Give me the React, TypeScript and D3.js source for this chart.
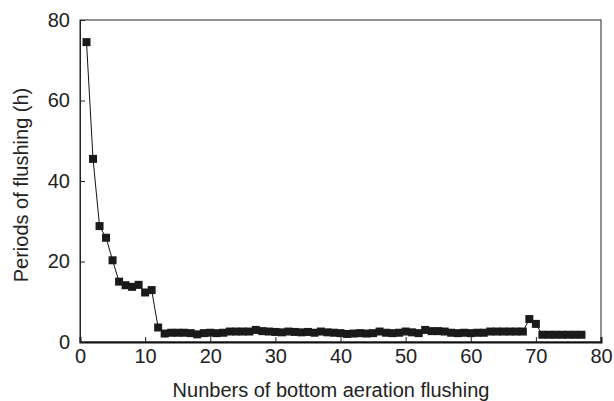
import React, { useEffect, useRef } from 'react';
import * as d3 from 'd3';

// flushing number -> period (h)
const flushNo = d3.range(1, 78);
const periods = [
  74.5, 45.5, 28.8, 25.9, 20.3, 15.0, 14.1, 13.7, 14.2, 12.3,
  12.9, 3.6, 2.1, 2.3, 2.3, 2.3, 2.2, 1.9, 2.2, 2.3,
  2.2, 2.3, 2.6, 2.6, 2.6, 2.6, 3.0, 2.7, 2.6, 2.5,
  2.4, 2.6, 2.5, 2.4, 2.5, 2.3, 2.6, 2.4, 2.3, 2.2,
  2.0, 2.1, 2.2, 2.1, 2.2, 2.6, 2.3, 2.2, 2.3, 2.6,
  2.4, 2.2, 3.0, 2.7, 2.7, 2.6, 2.3, 2.2, 2.3, 2.2,
  2.3, 2.3, 2.6, 2.6, 2.6, 2.6, 2.6, 2.6, 5.7, 4.5,
  1.8, 1.8, 1.8, 1.8, 1.8, 1.8, 1.8,
];
const xTicks = [0, 10, 20, 30, 40, 50, 60, 70, 80];
const yTicks = [0, 20, 40, 60, 80];

const App = () => {
  const ref = useRef(null);

  useEffect(() => {
    const svgEl = ref.current;
    if (!svgEl) return;
    d3.select(svgEl).selectAll('*').remove();

    const W = 614, H = 401;
    const margin = { top: 20, right: 13, bottom: 59, left: 80 };
    const width = W - margin.left - margin.right;
    const height = H - margin.top - margin.bottom;

    const svg = d3.select(svgEl);
    const g = svg.append('g').attr('transform', `translate(${margin.left},${margin.top})`);

    const x = d3.scaleLinear().domain([0, 80]).range([0, width]);
    const y = d3.scaleLinear().domain([0, 80]).range([height, 0]);

    const font = 'Liberation Sans, Arial, sans-serif';
    const fs = '20px';

    // frame
    g.append('rect')
      .attr('x', 0).attr('y', 0)
      .attr('width', width).attr('height', height)
      .attr('fill', 'none').attr('stroke', '#222').attr('stroke-width', 1);

    // bottom axis, ticks pointing inward
    const xAxis = g.append('g')
      .attr('transform', `translate(0,${height})`)
      .call(d3.axisBottom(x).tickValues(xTicks).tickSize(-5).tickPadding(7));
    xAxis.select('.domain').attr('stroke', '#111').attr('stroke-width', 2);
    xAxis.selectAll('.tick line').attr('stroke', '#222');
    xAxis.selectAll('text')
      .style('font-family', font).style('font-size', fs).attr('fill', '#222');

    const yAxis = g.append('g')
      .call(d3.axisLeft(y).tickValues(yTicks).tickSize(-5).tickPadding(10));
    yAxis.select('.domain').attr('stroke', '#222').attr('stroke-width', 1);
    yAxis.selectAll('.tick line').attr('stroke', '#222');
    yAxis.selectAll('text')
      .style('font-family', font).style('font-size', fs).attr('fill', '#222');

    const data = flushNo.map((n, i) => ({ n, v: periods[i] }));

    const line = d3.line()
      .x(d => x(d.n))
      .y(d => y(d.v));

    g.append('path')
      .datum(data)
      .attr('fill', 'none')
      .attr('stroke', '#111')
      .attr('stroke-width', 1)
      .attr('d', line);

    const s = 8;
    g.selectAll('.pt')
      .data(data)
      .enter().append('rect')
      .attr('class', 'pt')
      .attr('x', d => x(d.n) - s / 2)
      .attr('y', d => y(d.v) - s / 2)
      .attr('width', s)
      .attr('height', s)
      .attr('fill', '#1a1a1a');

    // axis titles
    svg.append('text')
      .attr('x', 331)
      .attr('y', 397)
      .attr('text-anchor', 'middle')
      .style('font-family', font).style('font-size', fs)
      .attr('fill', '#222')
      .text('Nunbers of bottom aeration flushing');

    svg.append('text')
      .attr('transform', 'translate(28,185) rotate(-90)')
      .attr('text-anchor', 'middle')
      .style('font-family', font).style('font-size', fs)
      .attr('fill', '#222')
      .text('Periods of flushing (h)');
  }, []);

  return (
    <div style={{ position: 'absolute', left: 0, top: 0 }}>
      <svg ref={ref} width={614} height={401} style={{ display: 'block', background: '#fff' }} />
    </div>
  );
};

export default App;
